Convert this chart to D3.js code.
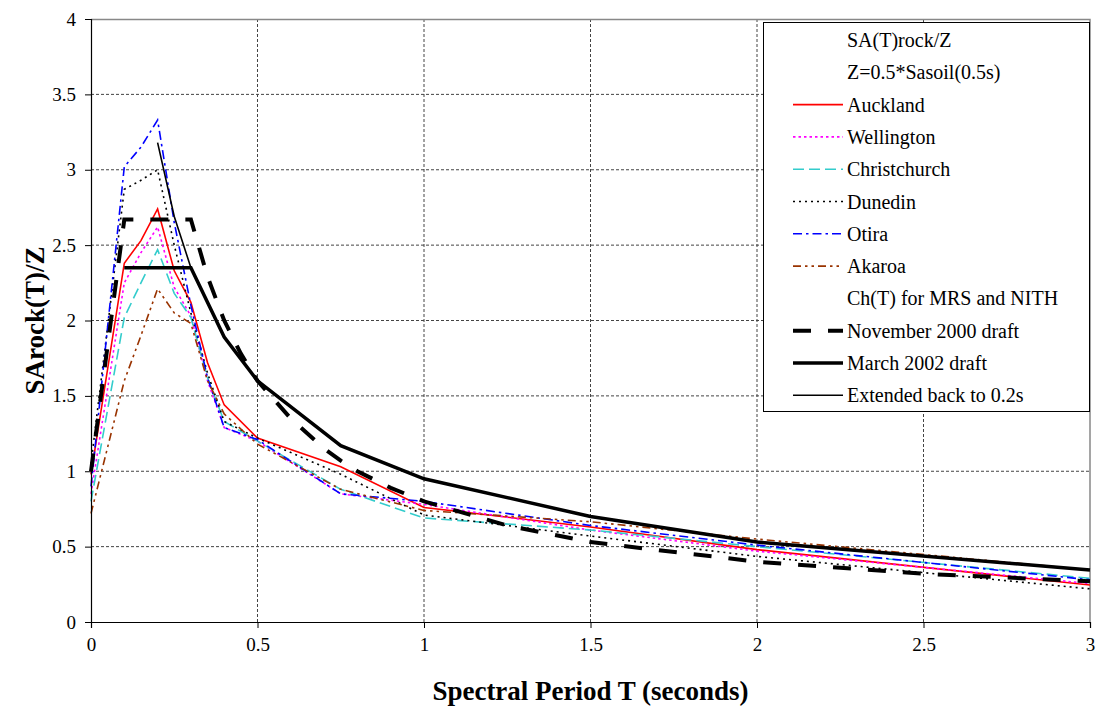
<!DOCTYPE html>
<html>
<head>
<meta charset="utf-8">
<script src="https://cdn.jsdelivr.net/npm/d3@7"></script>
<style>
  body { margin: 0; background: #fff; }
  svg text { font-family: "Liberation Serif", "Times New Roman", serif; fill: #000; }
</style>
</head>
<body>
<svg id="chart"></svg>
<script>
// Site spectra, all sampled at the same periods
const siteT = [0, 0.1, 0.15, 0.2, 0.25, 0.3, 0.35, 0.4, 0.5, 0.75, 1, 1.5, 2, 3];
const auckland     = [0.98, 2.38, 2.53, 2.74, 2.33, 2.12, 1.72, 1.44, 1.22, 1.03, 0.76, 0.63, 0.48, 0.245];
const wellington   = [0.85, 2.25, 2.45, 2.62, 2.22, 2.03, 1.60, 1.29, 1.20, 0.85, 0.78, 0.61, 0.47, 0.255];
const christchurch = [0.80, 2.02, 2.25, 2.47, 2.18, 2.02, 1.62, 1.33, 1.20, 0.88, 0.69, 0.61, 0.50, 0.29];
const dunedin      = [1.05, 2.87, 2.93, 3.00, 2.50, 2.05, 1.65, 1.33, 1.22, 0.98, 0.71, 0.57, 0.435, 0.22];
const otira        = [0.90, 3.02, 3.15, 3.33, 2.65, 2.10, 1.62, 1.29, 1.21, 0.85, 0.80, 0.64, 0.51, 0.28];
const akaroa       = [0.72, 1.60, 1.90, 2.21, 2.05, 1.98, 1.60, 1.38, 1.18, 0.88, 0.74, 0.665, 0.55, 0.345];

// Ch(T) curves
const novT = [0, 0.1, 0.3, 0.35, 0.4, 0.45, 0.5, 0.6, 0.7, 0.75, 0.8, 0.9, 1, 1.25, 1.5, 2, 2.5, 3];
const nov2000 = [1.0, 2.67, 2.67, 2.29, 2.0, 1.78, 1.6, 1.35, 1.15, 1.07, 1.0, 0.89, 0.8, 0.64, 0.53, 0.4, 0.32, 0.27];
const marT = [0.1, 0.3, 0.4, 0.5, 0.75, 1, 1.5, 2, 3];
const mar2002 = [2.35, 2.35, 1.89, 1.6, 1.17, 0.95, 0.70, 0.53, 0.345];
const extT = [0.2, 0.25, 0.3];
const extended = [3.18, 2.69, 2.35];

const xTicks = [0, 0.5, 1, 1.5, 2, 2.5, 3];
const yTicks = [0, 0.5, 1, 1.5, 2, 2.5, 3, 3.5, 4];

const series = [
  {name: "Auckland",     t: siteT, v: auckland,     color: "#ff0000", w: 1.6, dash: null},
  {name: "Wellington",   t: siteT, v: wellington,   color: "#ff00ff", w: 1.6, dash: "2.5,3"},
  {name: "Christchurch", t: siteT, v: christchurch, color: "#33cccc", w: 1.6, dash: "11,5"},
  {name: "Dunedin",      t: siteT, v: dunedin,      color: "#000000", w: 1.6, dash: "2,4"},
  {name: "Otira",        t: siteT, v: otira,        color: "#0000ff", w: 1.6, dash: "9,4,2.5,4"},
  {name: "Akaroa",       t: siteT, v: akaroa,       color: "#993300", w: 1.6, dash: "8,4,2.5,4,2.5,4"},
  {name: "November 2000 draft",  t: novT, v: nov2000,  color: "#000", w: 4,   dash: "18,17"},
  {name: "March 2002 draft",     t: marT, v: mar2002,  color: "#000", w: 3.5, dash: null},
  {name: "Extended back to 0.2s", t: extT, v: extended, color: "#000", w: 1.6, dash: null}
];

const FONT = "Liberation Serif";
const W = 1102, H = 713;
const margin = {top: 19, right: 12, bottom: 91, left: 91};
const width = W - margin.left - margin.right,
      height = H - margin.top - margin.bottom;

const svg = d3.select("#chart").attr("width", W).attr("height", H);
svg.append("rect").attr("width", W).attr("height", H).attr("fill", "#fff");

const g = svg.append("g").attr("transform", "translate(" + margin.left + "," + margin.top + ")");

let x = d3.scaleLinear().domain([0, 3]).range([0, width]);
let y = d3.scaleLinear().domain([0, 4]).range([height, 0]);

// grid
g.selectAll(".hgrid").data(yTicks.filter(d => d > 0 && d < 4)).enter().append("line")
  .attr("x1", 0).attr("x2", width)
  .attr("y1", d => y(d)).attr("y2", d => y(d))
  .attr("stroke", "#444").attr("stroke-width", 1).attr("stroke-dasharray", "3,2");
g.selectAll(".vgrid").data(xTicks.filter(d => d > 0 && d < 3)).enter().append("line")
  .attr("y1", 0).attr("y2", height)
  .attr("x1", d => x(d)).attr("x2", d => x(d))
  .attr("stroke", "#444").attr("stroke-width", 1).attr("stroke-dasharray", "3,2");

// top and right border
g.append("path")
  .attr("d", "M0,0.5H" + width + "V" + height)
  .attr("fill", "none").attr("stroke", "#888").attr("stroke-width", 1.5);

// lines
let line = d3.line().x(d => x(d[0])).y(d => y(d[1]));
series.forEach(function(s) {
  g.append("path")
    .datum(s.t.map((t, i) => [t, s.v[i]]))
    .attr("fill", "none")
    .attr("stroke", s.color)
    .attr("stroke-width", s.w)
    .attr("stroke-dasharray", s.dash)
    .attr("d", line);
});

// axes
let xAxis = g.append("g")
  .attr("transform", "translate(0," + height + ")")
  .call(d3.axisBottom(x).tickValues(xTicks).tickSize(6).tickPadding(10).tickFormat(d3.format("")));
let yAxis = g.append("g")
  .call(d3.axisLeft(y).tickValues(yTicks).tickSize(6).tickPadding(9).tickFormat(d3.format("")));
[xAxis, yAxis].forEach(function(a) {
  a.attr("font-family", FONT).attr("font-size", 19);
  a.select(".domain").attr("stroke", "#000").attr("stroke-width", 1.2);
  a.selectAll(".tick line").attr("stroke", "#000");
  a.selectAll("text").attr("fill", "#000");
});

// axis titles
svg.append("text")
  .attr("x", margin.left + width / 2).attr("y", 700)
  .attr("text-anchor", "middle")
  .attr("font-family", FONT).attr("font-size", 27).attr("font-weight", "bold")
  .text("Spectral Period T (seconds)");
svg.append("text")
  .attr("transform", "translate(44," + (margin.top + height / 2) + ") rotate(-90)")
  .attr("text-anchor", "middle")
  .attr("font-family", FONT).attr("font-size", 27).attr("font-weight", "bold")
  .text("SArock(T)/Z");

// legend
const legendRows = [
  {label: "SA(T)rock/Z"},
  {label: "Z=0.5*Sasoil(0.5s)"},
  series[0], series[1], series[2], series[3], series[4], series[5],
  {label: "Ch(T) for MRS and NITH"},
  series[6], series[7], series[8]
];
let lg = svg.append("g").attr("transform", "translate(763,22)");
lg.append("rect").attr("x", 0.5).attr("y", 0.5).attr("width", 326).attr("height", 389)
  .attr("fill", "#fff").attr("stroke", "#000").attr("stroke-width", 1);
legendRows.forEach(function(r, i) {
  let cy = 18 + i * 32.3;
  if (r.name) {
    lg.append("line")
      .attr("x1", 30).attr("x2", 80).attr("y1", cy).attr("y2", cy)
      .attr("stroke", r.color).attr("stroke-width", r.w)
      .attr("stroke-dasharray", r.dash);
  }
  lg.append("text")
    .attr("x", 84).attr("y", cy + 7)
    .attr("font-family", FONT).attr("font-size", 20)
    .text(r.name || r.label);
});
</script>
</body>
</html>
